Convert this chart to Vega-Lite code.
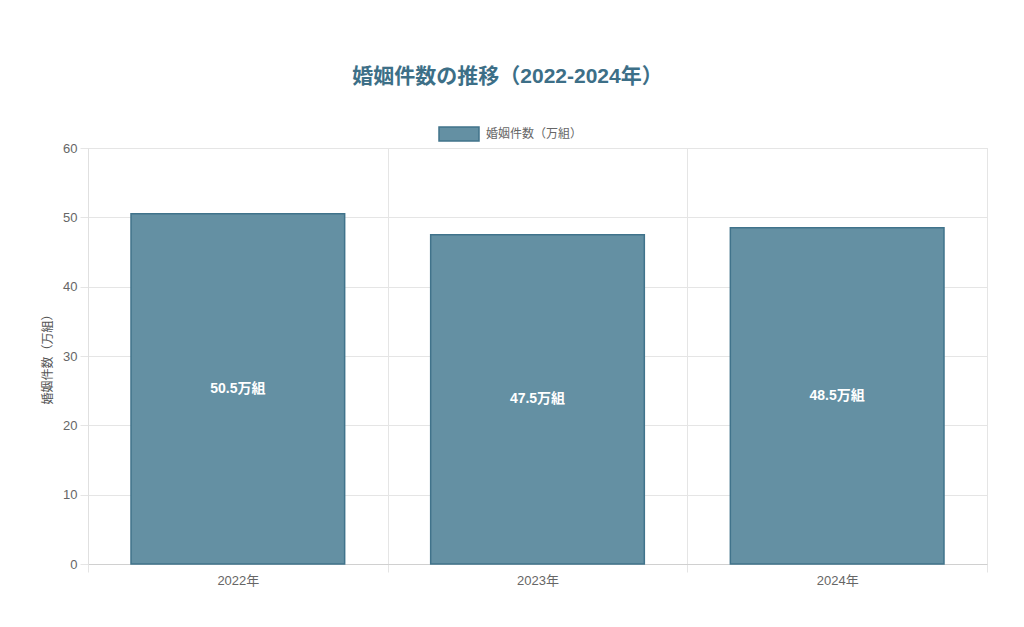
{
  "$schema": "https://vega.github.io/schema/vega-lite/v6.json",
  "width": 899,
  "height": 416,
  "autosize": "none",
  "padding": {"left": 88, "top": 148, "right": 37, "bottom": 63},
  "background": "#ffffff",
  "title": {
    "text": "婚姻件数の推移（2022-2024年）",
    "anchor": "middle",
    "frame": "group",
    "dx": -30,
    "offset": 26,
    "font": "Liberation Sans, Noto Sans CJK JP",
    "fontSize": 21,
    "fontWeight": "bold",
    "color": "#3d6f87"
  },
  "data": {
    "values": [
      {"year": "2022年", "count": 50.5, "label": "50.5万組", "series": "婚姻件数（万組）"},
      {"year": "2023年", "count": 47.5, "label": "47.5万組", "series": "婚姻件数（万組）"},
      {"year": "2024年", "count": 48.5, "label": "48.5万組", "series": "婚姻件数（万組）"}
    ]
  },
  "encoding": {
    "x": {
      "field": "year",
      "type": "nominal",
      "sort": null,
      "title": null,
      "scale": {"type": "band", "paddingInner": 0, "paddingOuter": 0},
      "axis": {
        "tickBand": "extent",
        "labelAngle": 0,
        "labelFont": "Liberation Sans, Noto Sans CJK JP",
        "labelFontSize": 13,
        "labelColor": "#666666",
        "labelPadding": 2,
        "tickSize": 8,
        "tickColor": "#e5e5e5",
        "gridColor": "#e5e5e5",
        "grid": true,
        "domainColor": "#d0d0d0"
      }
    }
  },
  "layer": [
    {
      "mark": {
        "type": "bar",
        "width": {"band": 0.713},
        "fill": "#6490a3",
        "stroke": "#40738b",
        "strokeWidth": 1.5
      },
      "encoding": {
        "y": {
          "field": "count",
          "type": "quantitative",
          "title": "婚姻件数（万組）",
          "scale": {"domain": [0, 60]},
          "axis": {
            "values": [0, 10, 20, 30, 40, 50, 60],
            "labelFont": "Liberation Sans, Noto Sans CJK JP",
            "labelFontSize": 13,
            "labelColor": "#666666",
            "labelPadding": 3,
            "tickSize": 8,
            "tickColor": "#e5e5e5",
            "gridColor": "#e5e5e5",
            "domainColor": "#e0e0e0",
            "titleFont": "Noto Sans CJK JP",
            "titleFontSize": 12,
            "titleFontWeight": "normal",
            "titleColor": "#555555",
            "titlePadding": 8
          }
        },
        "color": {
          "field": "series",
          "type": "nominal",
          "scale": {"range": ["#6490a3"]},
          "legend": {
            "title": null,
            "orient": "none",
            "legendX": 350,
            "legendY": -35,
            "symbolType": "M-1,-0.35H1V0.35H-1Z",
            "symbolSize": 1600,
            "symbolFillColor": "#6490a3",
            "symbolStrokeColor": "#40738b",
            "symbolStrokeWidth": 1.5,
            "symbolOpacity": 1,
            "labelFont": "Noto Sans CJK JP",
            "labelFontSize": 12,
            "labelColor": "#666666",
            "labelOffset": 6
          }
        }
      }
    },
    {
      "transform": [{"calculate": "datum.count / 2", "as": "mid"}],
      "mark": {
        "type": "text",
        "font": "Liberation Sans, Noto Sans CJK JP",
        "fontSize": 14,
        "fontWeight": "bold",
        "color": "#ffffff",
        "baseline": "middle"
      },
      "encoding": {
        "y": {"field": "mid", "type": "quantitative"},
        "text": {"field": "label"}
      }
    }
  ]
}
